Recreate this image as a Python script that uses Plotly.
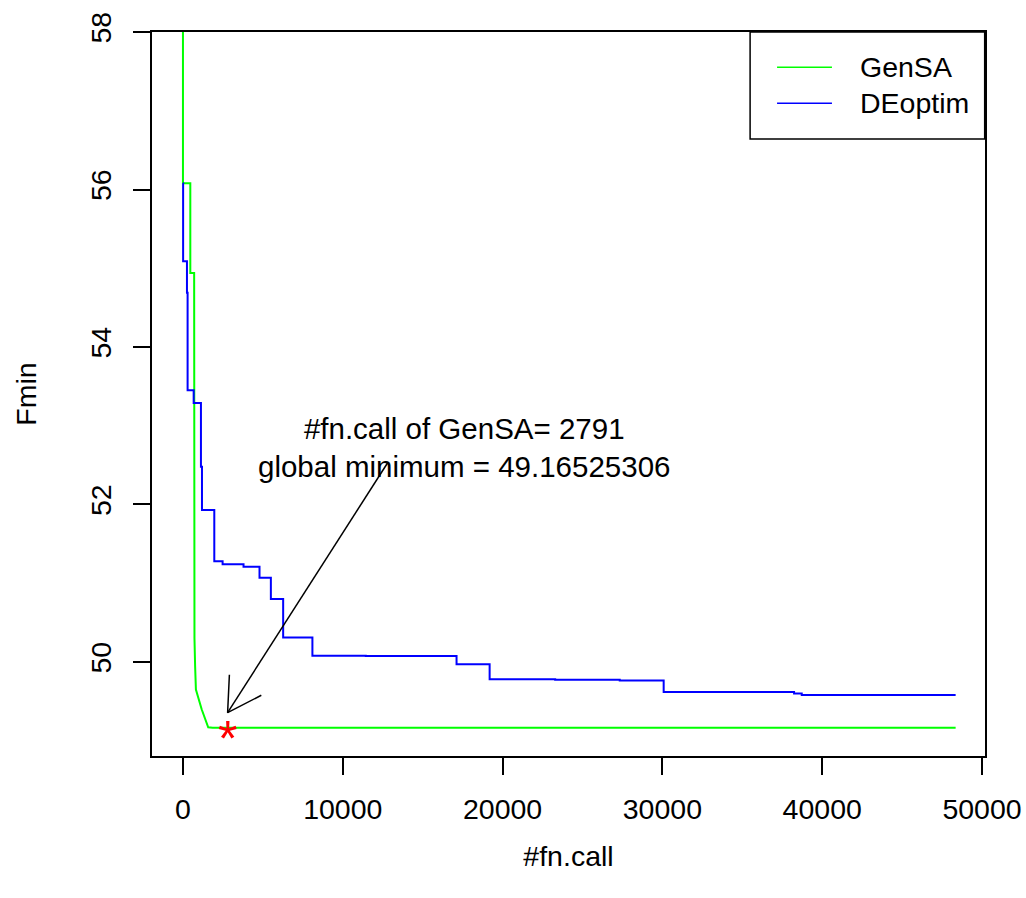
import math
import plotly.graph_objects as go

# ---------------- data ----------------
# GenSA cumulative minimum vs number of function calls (corner points of the trace)
gensa_calls = [0, 0, 460, 460, 700, 700, 720, 760, 810, 1170, 1580, 1860, 48350]
gensa_fmin = [62.0, 56.08, 56.08, 54.94, 54.94, 52.0, 50.3, 49.95, 49.65, 49.40, 49.17, 49.165, 49.165]

# DEoptim cumulative minimum (step function, value holds until next call count)
deoptim_calls = [0, 10, 250, 290, 670, 1125, 1190, 1960, 2480, 3790, 4790, 5500, 6270,
                 8100, 11440, 17120, 19190, 23290, 27330, 30080, 38240, 38720, 48350]
deoptim_fmin = [56.08, 55.09, 54.69, 53.45, 53.29, 52.48, 51.93, 51.28, 51.24, 51.21, 51.07,
                50.80, 50.31, 50.08, 50.075, 49.97, 49.78, 49.775, 49.765, 49.62, 49.60, 49.58, 49.58]

GENSA_CALLS = 2791
GLOBAL_MIN = 49.16525306

LABEL_POS = (17560, 52.72)          # centre of the two-line note
ARROW_FROM = (12810, 52.53)          # arrow tail
ARROW_TO = (2794, 49.356)            # arrow tip

x_ticks = [0, 10000, 20000, 30000, 40000, 50000]
y_ticks = [50, 52, 54, 56, 58]
series_names = ["GenSA", "DEoptim"]
series_colors = ["#00FF00", "#0000FF"]

# ---------------- layout geometry ----------------
KX = 1034 / 1026                      # horizontal compensation
W, H = 1034, 898
ML, MR, MT, MB = round(151 * KX), round(41 * KX), 32, 142
PW, PH = W - ML - MR, H - MT - MB
X_RANGE = [-1937.5, 50187.5]
Y_RANGE = [48.806, 58.0001]
FONT = "Liberation Sans, Arial, Helvetica, sans-serif"
FS = 28.5

sx = PW / (X_RANGE[1] - X_RANGE[0])   # px per x unit
sy = PH / (Y_RANGE[1] - Y_RANGE[0])   # px per y unit


def px2paper(px, py):
    return (px * KX - ML) / PW, (H - MB - py) / PH


fig = go.Figure()

fig.add_trace(go.Scatter(x=gensa_calls, y=gensa_fmin, mode="lines", name=series_names[0],
                         line=dict(color=series_colors[0], width=2), showlegend=False))
fig.add_trace(go.Scatter(x=deoptim_calls, y=deoptim_fmin, mode="lines", name=series_names[1],
                         line=dict(color=series_colors[1], width=2, shape="hv"), showlegend=False))

# arrow (R arrows(): head length ~38px, angle 30deg), computed in pixel space
dxp = (ARROW_FROM[0] - ARROW_TO[0]) * sx / KX
dyp = (ARROW_FROM[1] - ARROW_TO[1]) * sy
ang = math.atan2(dyp, dxp)
head = 38
hx, hy = [], []
for a in (ang + math.radians(30), ang - math.radians(30)):
    hx.append(ARROW_TO[0] + head * math.cos(a) * KX / sx)
    hy.append(ARROW_TO[1] + head * math.sin(a) / sy)
fig.add_trace(go.Scatter(
    x=[ARROW_FROM[0], ARROW_TO[0], None, hx[0], ARROW_TO[0], hx[1]],
    y=[ARROW_FROM[1], ARROW_TO[1], None, hy[0], ARROW_TO[1], hy[1]],
    mode="lines", line=dict(color="black", width=1.5), showlegend=False, hoverinfo="skip"))

annotations = [
    dict(x=LABEL_POS[0], y=LABEL_POS[1], xref="x", yref="y", showarrow=False,
         text=f"#fn.call of GenSA= {GENSA_CALLS}<br>global minimum = {GLOBAL_MIN:.8f}",
         font=dict(family=FONT, size=29.5, color="black"), align="center"),
    dict(x=GENSA_CALLS, y=GLOBAL_MIN, xref="x", yref="y", showarrow=False, text="*",
         font=dict(family=FONT, size=50, color="#FF0000"), yshift=-11),
]

# manual R-style legend
shapes = []
bx0, by0 = px2paper(750, 139)
bx1, by1 = px2paper(985, 32)
shapes.append(dict(type="rect", xref="paper", yref="paper", x0=bx0, y0=by0, x1=bx1, y1=by1,
                   line=dict(color="black", width=1.5), fillcolor="white", layer="above"))
for i, (name, col) in enumerate(zip(series_names, series_colors)):
    ly = 67.3 + 36 * i
    lx0, lyp = px2paper(777, ly)
    lx1, _ = px2paper(832, ly)
    shapes.append(dict(type="line", xref="paper", yref="paper", x0=lx0, x1=lx1, y0=lyp, y1=lyp,
                       line=dict(color=col, width=1.5), layer="above"))
    tx, _ = px2paper(858, ly)
    annotations.append(dict(x=tx, y=lyp, xref="paper", yref="paper", xanchor="left",
                            yanchor="middle", showarrow=False, text=name,
                            font=dict(family=FONT, size=FS, color="black")))

axis_common = dict(showgrid=False, zeroline=False, showline=True, mirror=True,
                   linecolor="black", linewidth=1.5, ticks="outside", ticklen=17,
                   tickwidth=1.5, tickcolor="black",
                   tickfont=dict(family=FONT, size=FS, color="black"))

fig.update_layout(
    width=W, height=H, autosize=False,
    margin=dict(l=ML, r=MR, t=MT, b=MB),
    paper_bgcolor="white", plot_bgcolor="white",
    font=dict(family=FONT, size=FS, color="black"),
    xaxis=dict(range=X_RANGE, tickmode="array", tickvals=x_ticks,
               ticktext=[str(v) for v in x_ticks], ticklabelstandoff=10,
               title=dict(text="#fn.call", font=dict(family=FONT, size=FS), standoff=22),
               **axis_common),
    yaxis=dict(range=Y_RANGE, tickmode="array", tickvals=y_ticks,
               ticktext=[str(v) for v in y_ticks], tickangle=-90, ticklabelstandoff=11,
               title=dict(text="Fmin", font=dict(family=FONT, size=FS), standoff=40),
               **axis_common),
    annotations=annotations,
    shapes=shapes,
    showlegend=False,
)

fig.write_html(
    "out.html",
    config={"displayModeBar": False},
    post_script="document.documentElement.style.overflow='hidden';"
                "document.body.style.margin='0';document.body.style.overflow='hidden';",
)
